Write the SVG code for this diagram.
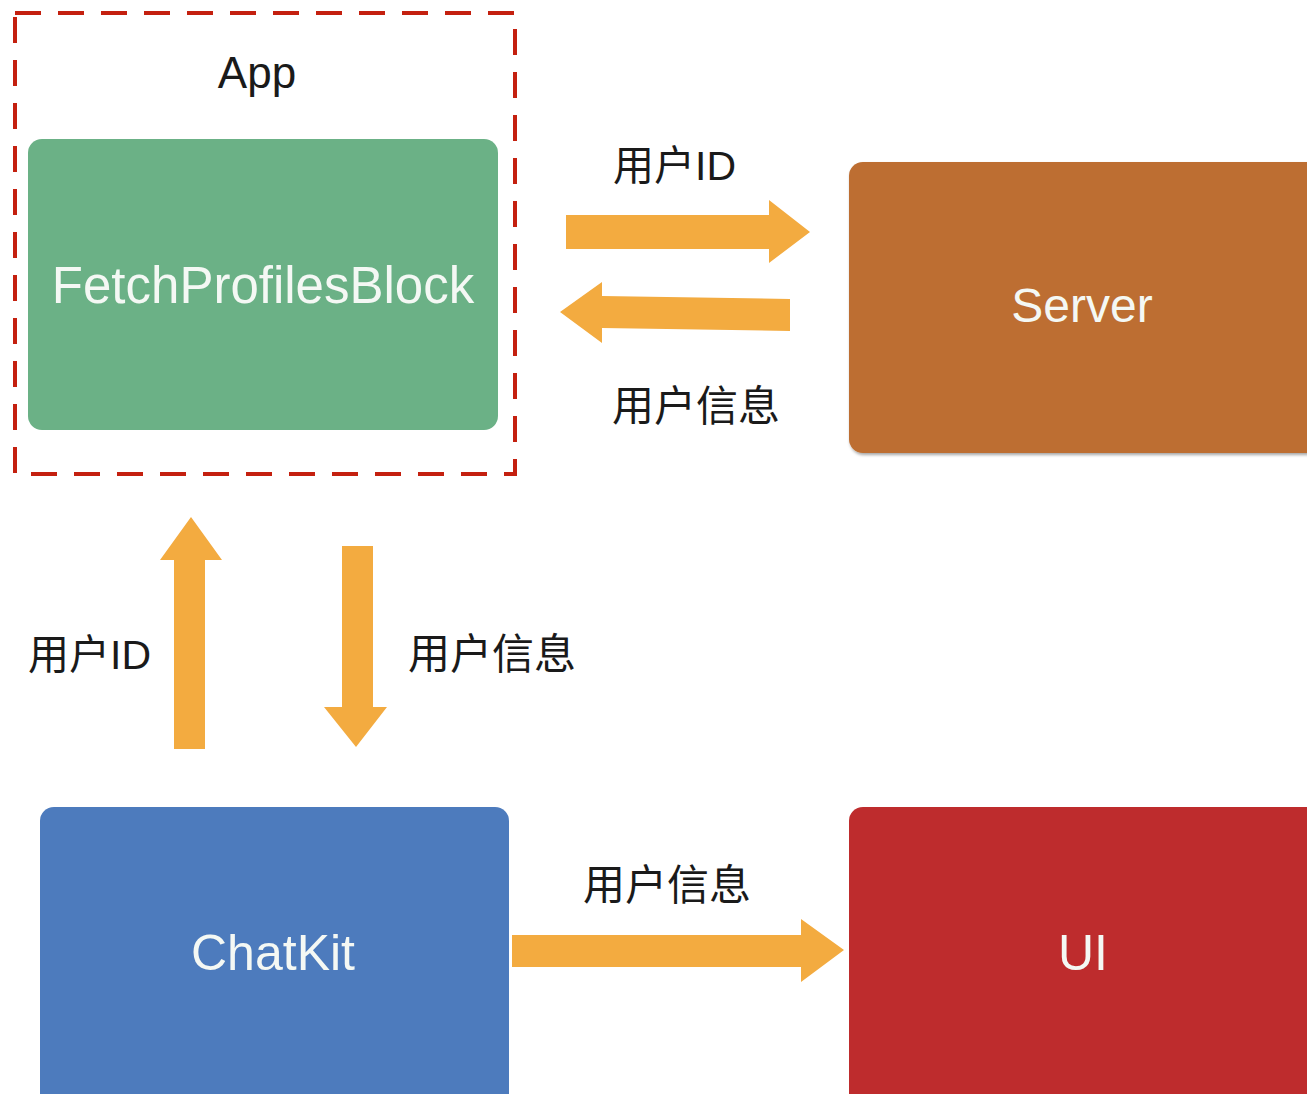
<svg xmlns="http://www.w3.org/2000/svg" width="1307" height="1094" viewBox="0 0 1307 1094">
<defs>
<style>
.lbl{font-family:"Liberation Sans","Noto Sans CJK SC",sans-serif;fill:#1a1a1a;}
.nodeText{font-family:"Liberation Sans","Noto Sans CJK SC",sans-serif;fill:#f4f8f4;text-anchor:middle;}
.arrow{fill:#F3AB40;}
</style>
<filter id="sh" x="-5%" y="-5%" width="110%" height="110%">
<feDropShadow dx="1" dy="2" stdDeviation="1.5" flood-color="#000" flood-opacity="0.35"/>
</filter>
</defs>
<rect width="1307" height="1094" fill="#ffffff"/>

<g id="app">
<rect x="15" y="13" width="500" height="461" fill="none" stroke="#C4200F" stroke-width="4" stroke-dasharray="26 17"/>
<text x="257" y="88" class="lbl" font-size="44" text-anchor="middle">App</text>
</g>

<g id="fetchProfilesBlock">
<rect x="28" y="139" width="470" height="291" rx="14" fill="#6BB186"/>
<text x="263" y="303" class="nodeText" font-size="51">FetchProfilesBlock</text>
</g>

<g id="server">
<rect x="849" y="162" width="480" height="291" rx="14" fill="#BD6E30" filter="url(#sh)"/>
<text x="1082" y="322" class="nodeText" font-size="48">Server</text>
</g>

<g id="chatkit">
<rect x="40" y="807" width="469" height="310" rx="14" fill="#4D7BBD"/>
<text x="273" y="970" class="nodeText" font-size="50">ChatKit</text>
</g>

<g id="ui">
<rect x="849" y="807" width="480" height="310" rx="14" fill="#BE2C2D"/>
<text x="1083" y="970" class="nodeText" font-size="50">UI</text>
</g>

<g id="connectors">
<polygon class="arrow" points="566,215 769,215 769,200 810,232 769,263 769,249 566,249"/>
<polygon class="arrow" points="790,299 602,296 602,282 560,312 602,343 602,328 790,331"/>
<polygon class="arrow" points="174,749 174,560 160,560 191,517 222,560 205,560 205,749"/>
<polygon class="arrow" points="342,546 373,546 373,707 387,707 356,747 324,707 342,707"/>
<polygon class="arrow" points="512,935 801,935 801,919 844,950 801,982 801,967 512,967" stroke="#ffffff" stroke-width="6" stroke-linejoin="miter" paint-order="stroke"/>
<text x="613" y="180" class="lbl" font-size="41">用户ID</text>
<text x="612" y="421" class="lbl" font-size="42">用户信息</text>
<text x="28" y="669" class="lbl" font-size="41">用户ID</text>
<text x="408" y="669" class="lbl" font-size="42">用户信息</text>
<text x="583" y="900" class="lbl" font-size="42">用户信息</text>
</g>
</svg>
